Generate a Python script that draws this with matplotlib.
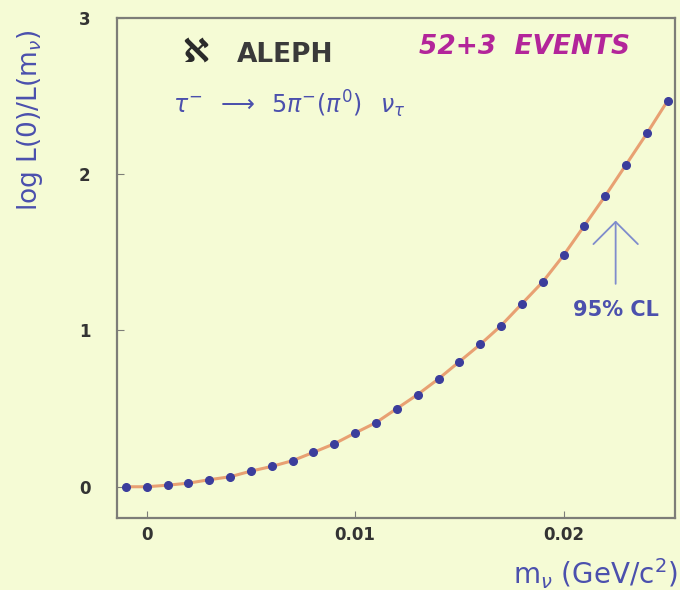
import matplotlib
matplotlib.use("Agg")
import matplotlib.pyplot as plt

# neutrino mass scan (GeV/c^2) and log-likelihood ratio
m_nu = [-0.001, 0.000, 0.001, 0.002, 0.003, 0.004, 0.005, 0.006, 0.007,
        0.008, 0.009, 0.010, 0.011, 0.012, 0.013, 0.014, 0.015, 0.016,
        0.017, 0.018, 0.019, 0.020, 0.021, 0.022, 0.023, 0.024, 0.025]
log_ratio = [0.0, 0.0, 0.01, 0.023, 0.045, 0.064, 0.10, 0.13, 0.167,
             0.22, 0.275, 0.344, 0.41, 0.50, 0.59, 0.69, 0.80, 0.91,
             1.03, 1.17, 1.31, 1.48, 1.67, 1.86, 2.06, 2.26, 2.47]

x_ticks = [0, 0.01, 0.02]
x_tick_labels = ["0", "0.01", "0.02"]
y_ticks = [0, 1, 2, 3]

cl95_mass = 0.0225

bg = "#f5fbd5"
blue = "#4b50ad"

fig = plt.figure(figsize=(6.8, 5.9), dpi=100, facecolor=bg)
ax = fig.add_axes([0.172, 0.122, 0.821, 0.848], facecolor=bg)

ax.plot(m_nu, log_ratio, color="#e8a072", lw=2.2, zorder=2)
ax.plot(m_nu, log_ratio, "o", color="#3b3d9c", ms=5.5, zorder=3)

ax.set_xlim(-0.00143, 0.02536)
ax.set_ylim(-0.2, 3.0)
ax.set_xticks(x_ticks)
ax.set_xticklabels(x_tick_labels)
ax.set_yticks(y_ticks)

for s in ax.spines.values():
    s.set_color("#7d7d78")
    s.set_linewidth(1.6)
ax.tick_params(direction="in", length=5, color="#7d7d78",
               labelcolor="#333333", labelsize=12)
ax.tick_params(axis="y", pad=19)
ax.tick_params(axis="x", pad=6)
for lab in ax.get_xticklabels() + ax.get_yticklabels():
    lab.set_fontweight("bold")

# header texts
ax.text(0.14, 0.932, "\u2135", transform=ax.transAxes, fontsize=24,
        fontweight="bold", color="#2a2a2a", ha="center", va="center")
ax.text(0.215, 0.925, "ALEPH", transform=ax.transAxes, fontsize=19,
        fontweight="bold", color="#3a3a3a", ha="left", va="center")
ax.text(0.73, 0.942, "52+3  EVENTS", transform=ax.transAxes, fontsize=19,
        color="#b3259a", ha="center", va="center", fontstyle="italic",
        fontweight="bold")
ax.text(0.10, 0.826,
        r"$\tau^{-}\;\;\longrightarrow\;\;5\pi^{-}(\pi^{0})\;\;\;\nu_{\tau}$",
        transform=ax.transAxes, fontsize=17, color=blue,
        ha="left", va="center")

# 95% CL marker
ax.annotate("", xy=(cl95_mass, 1.72), xytext=(cl95_mass, 1.28),
            arrowprops=dict(arrowstyle="->,head_length=0.4,head_width=0.4",
                            color="#7f8ccc", lw=1.3, mutation_scale=40))
ax.text(cl95_mass, 1.13, "95% CL", color=blue, fontsize=15,
        ha="center", va="center", fontweight="bold")

fig.text(0.044, 0.797, r"log L(0)/L(m$_\nu$)", rotation=90, color=blue,
         fontsize=19, ha="center", va="center")
fig.text(0.997, 0.028, r"m$_\nu$ (GeV/c$^2$)", color=blue, fontsize=20,
         ha="right", va="center")

fig.savefig("out.png", dpi=100, facecolor=bg)
